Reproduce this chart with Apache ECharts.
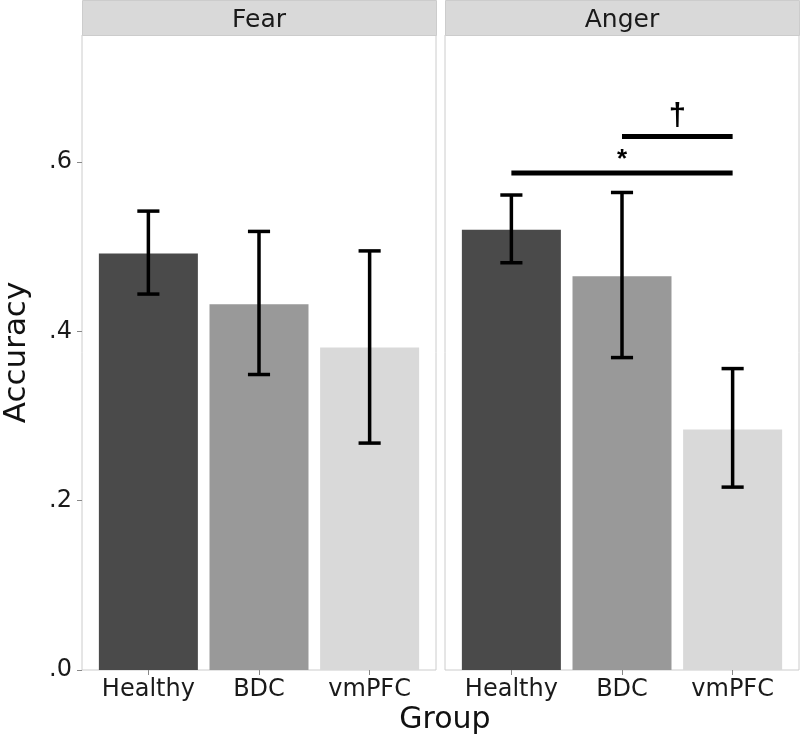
<!DOCTYPE html>
<html>
<head>
<meta charset="utf-8">
<script src="https://cdn.jsdelivr.net/npm/echarts@6/dist/echarts.min.js"></script>
<style>
  html, body { margin: 0; padding: 0; background: #fff; }
  #main { width: 800px; height: 740px; }
</style>
</head>
<body>
<div id="main"></div>
<script>
// data
var groups = ['Healthy', 'BDC', 'vmPFC'];
var panels = ['Fear', 'Anger'];
var fearMean = [0.492, 0.432, 0.381];
var fearLow  = [0.444, 0.349, 0.268];
var fearHigh = [0.542, 0.518, 0.495];
var angerMean = [0.520, 0.465, 0.284];
var angerLow  = [0.481, 0.369, 0.216];
var angerHigh = [0.561, 0.564, 0.356];
var yTicks = [0, 0.2, 0.4, 0.6];
var barColors = ['#4a4a4a', '#999999', '#d9d9d9'];
// significance brackets in the Anger panel: [from group, to group, height, mark]
var sigBars = [[1, 3, 0.587, '*'], [2, 3, 0.630, '†']];

var dom = document.getElementById("main");
var myChart = echarts.init(dom);
var option = null;

var fontFam = '"DejaVu Sans", "Liberation Sans", sans-serif';
var panelLeft = [82, 445];
var panelWidth = 354;

function barData(means) {
    return means.map(function (v, i) {
        return { value: [i + 1, v], itemStyle: { color: barColors[i] } };
    });
}
function errData(low, high) {
    return low.map(function (v, i) { return [i + 1, v, high[i]]; });
}

function renderErr(params, api) {
    var x = api.value(0);
    var lo = api.coord([x, api.value(1)]);
    var hi = api.coord([x, api.value(2)]);
    var half = api.size([0.2, 0])[0] / 2;
    var st = { stroke: '#000', lineWidth: 3.5 };
    return {
        type: 'group',
        children: [
            { type: 'line', shape: { x1: lo[0], y1: lo[1], x2: hi[0], y2: hi[1] }, style: st },
            { type: 'line', shape: { x1: lo[0] - half, y1: lo[1], x2: lo[0] + half, y2: lo[1] }, style: st },
            { type: 'line', shape: { x1: hi[0] - half, y1: hi[1], x2: hi[0] + half, y2: hi[1] }, style: st }
        ]
    };
}

function renderSig(params, api) {
    var a = api.coord([api.value(0), api.value(2)]);
    var b = api.coord([api.value(1), api.value(2)]);
    var mid = (a[0] + b[0]) / 2;
    var mark = sigBars[params.dataIndex][3];
    var star = mark === '*';
    return {
        type: 'group',
        children: [
            { type: 'line', shape: { x1: a[0], y1: a[1], x2: b[0], y2: b[1] },
              style: { stroke: '#000', lineWidth: 5 } },
            { type: 'text', x: mid, y: a[1] - (star ? 0 : 5),
              style: { text: mark, fill: '#000',
                       font: 'bold ' + (star ? 26 : 31) + 'px "Liberation Sans", Arial, sans-serif',
                       textAlign: 'center', textVerticalAlign: 'bottom' } }
        ]
    };
}

var grids = [], xAxes = [], yAxes = [], series = [], graphics = [];
panels.forEach(function (p, k) {
    grids.push({ left: panelLeft[k], top: 35, width: panelWidth, height: 635,
                 show: true, borderColor: '#cccccc', borderWidth: 1, backgroundColor: '#fff' });
    xAxes.push({
        gridIndex: k, type: 'value', min: 0.4, max: 3.6,
        axisLine: { show: false }, splitLine: { show: false },
        axisTick: { show: true, length: 5, lineStyle: { color: '#888' }, customValues: [1, 2, 3] },
        axisLabel: { customValues: [1, 2, 3], margin: 8, fontSize: 24, color: '#1a1a1a', fontFamily: fontFam,
                     formatter: function (v) { return groups[Math.round(v) - 1]; } }
    });
    yAxes.push({
        gridIndex: k, type: 'value', min: 0, max: 0.75,
        axisLine: { show: false }, splitLine: { show: false },
        axisTick: { show: k === 0, length: 5, lineStyle: { color: '#888' }, customValues: yTicks },
        axisLabel: { show: k === 0, customValues: yTicks, margin: 10, fontSize: 24, color: '#1a1a1a', fontFamily: fontFam,
                     formatter: function (v) { return '.' + Math.round(v * 10); } },
        name: k === 0 ? 'Accuracy' : '', nameLocation: 'middle', nameGap: 50,
        nameTextStyle: { fontSize: 31, color: '#111', fontFamily: fontFam }
    });
    var m = k === 0 ? fearMean : angerMean;
    var lo = k === 0 ? fearLow : angerLow;
    var hi = k === 0 ? fearHigh : angerHigh;
    series.push({ type: 'bar', xAxisIndex: k, yAxisIndex: k, barWidth: 99, data: barData(m), silent: true });
    series.push({ type: 'custom', xAxisIndex: k, yAxisIndex: k, renderItem: renderErr, data: errData(lo, hi), z: 5 });
    // strip header
    graphics.push({ type: 'rect', left: panelLeft[k], top: 0,
                    shape: { width: panelWidth, height: 35 },
                    style: { fill: '#d9d9d9', stroke: '#cccccc', lineWidth: 1 } });
    graphics.push({ type: 'text', x: panelLeft[k] + panelWidth / 2, y: 20,
                    style: { text: p, font: '25px ' + fontFam, fill: '#1a1a1a',
                             textAlign: 'center', textVerticalAlign: 'middle' } });
});
series.push({ type: 'custom', xAxisIndex: 1, yAxisIndex: 1, renderItem: renderSig,
              data: sigBars.map(function (s) { return [s[0], s[1], s[2]]; }), z: 6 });

option = {
    animation: false,
    backgroundColor: '#fff',
    title: { text: 'Group', left: 440, top: 700, textAlign: 'center',
             textStyle: { fontSize: 30, fontWeight: 'normal', color: '#111', fontFamily: fontFam } },
    grid: grids,
    xAxis: xAxes,
    yAxis: yAxes,
    series: series,
    graphic: graphics
};
if (option && typeof option === "object") {
    myChart.setOption(option, true);
}
</script>
</body>
</html>
